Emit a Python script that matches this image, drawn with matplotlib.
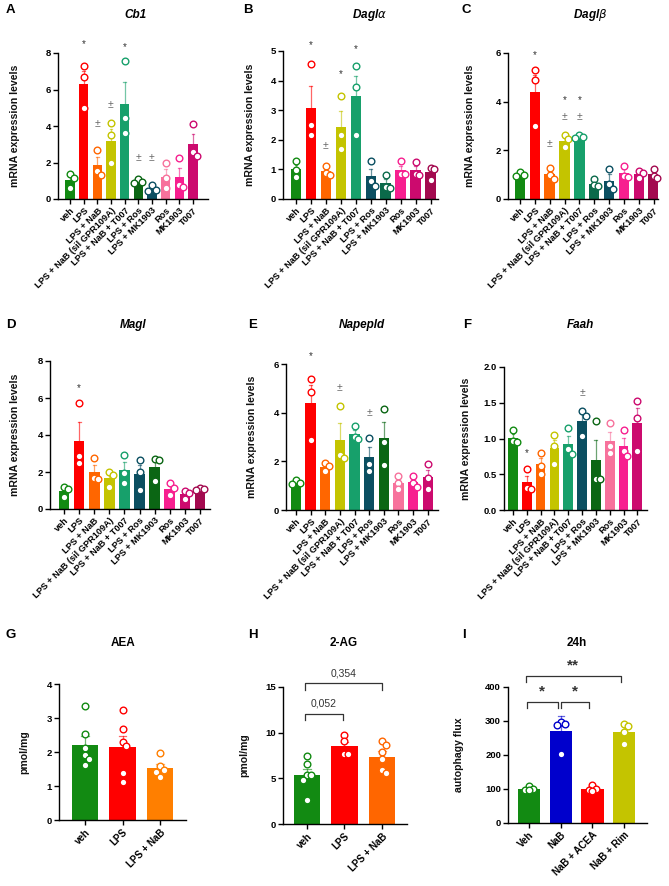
import matplotlib
matplotlib.use('Agg')
import matplotlib.pyplot as plt
import numpy as np

plt.rcParams['font.family'] = ['Liberation Sans', 'DejaVu Sans']

# ---- data ----
groups = ['veh', 'LPS', 'LPS + NaB', 'LPS + NaB (sil GPR109A)', 'LPS + NaB + T007',
          'LPS + Ros', 'LPS + MK1903', 'Ros', 'MK1903', 'T007']

cb1 = [[1.35, 1.15, 0.6], [7.29, 6.69, 5.0], [2.69, 1.56, 1.29], [4.15, 3.5, 1.96],
       [7.56, 4.42, 3.64], [1.1, 0.95, 0.85], [0.78, 0.5, 0.45], [1.96, 1.15, 0.58],
       [2.22, 0.75, 0.65], [4.1, 2.6, 2.33]]
dagla = [[1.27, 0.99, 0.73], [4.55, 2.5, 2.17], [1.12, 0.88, 0.82], [3.49, 2.15, 1.69],
         [4.49, 3.78, 2.17], [1.27, 0.6, 0.45], [0.82, 0.4, 0.38], [1.27, 0.85, 0.85],
         [1.25, 0.85, 0.82], [1.04, 1.0, 0.65]]
daglb = [[1.1, 1.0, 0.95], [5.29, 4.88, 3.0], [1.27, 1.0, 0.82], [2.63, 2.45, 2.13],
         [2.62, 2.55, 2.52], [0.82, 0.56, 0.52], [1.25, 0.61, 0.41], [1.36, 0.95, 0.9],
         [1.15, 1.05, 0.87], [1.25, 0.95, 0.85]]
magl = [[1.17, 1.1, 0.65], [5.74, 2.87, 2.48], [2.74, 1.65, 1.62], [1.99, 1.85, 1.17],
        [2.92, 1.94, 1.4], [2.65, 1.99, 1.04], [2.7, 2.65, 1.52], [1.4, 1.13, 0.74],
        [0.99, 0.86, 0.54], [1.15, 1.1, 1.05]]
napepld = [[1.25, 1.12, 1.08], [5.4, 4.86, 2.88], [1.92, 1.81, 1.62], [4.29, 2.26, 2.12],
           [3.47, 3.01, 2.9], [2.97, 1.89, 1.62], [4.16, 2.81, 1.85], [1.41, 1.1, 0.85],
           [1.4, 1.1, 0.96], [1.88, 1.3, 0.88]]
faah = [[1.12, 0.96, 0.95], [0.57, 0.31, 0.3], [0.8, 0.61, 0.5], [1.05, 0.9, 0.64],
        [1.14, 0.85, 0.78], [1.38, 1.31, 1.03], [1.25, 0.43, 0.43], [1.22, 0.89, 0.8],
        [1.12, 0.82, 0.76], [1.53, 1.29, 0.83]]

groups_endo = ['veh', 'LPS', 'LPS + NaB']
aea = [[3.35, 2.52, 2.11, 1.91, 1.79, 1.62], [3.24, 2.67, 2.3, 2.19, 1.39, 1.11],
       [1.96, 1.6, 1.47, 1.42, 1.27]]
ag2 = [[7.5, 6.55, 5.4, 5.4, 4.85, 2.65], [9.7, 9.05, 7.66, 7.66],
       [9.12, 8.6, 7.84, 7.14, 5.86, 5.57]]

groups_flux = ['Veh', 'NaB', 'NaB + ACEA', 'NaB + Rim']
flux = [[110, 100, 97, 98], [297, 287, 290, 203], [112, 100, 96, 94], [290, 285, 268, 233]]

# significance marks: (bar, y, symbol)
marks_cb1 = [(1, 8.5, '*'), (2, 4.1, '±'), (3, 5.15, '±'), (4, 8.3, '*'), (5, 2.25, '±'), (6, 2.25, '±')]
marks_dagla = [(1, 5.2, '*'), (2, 1.78, '±'), (3, 4.22, '*'), (4, 5.06, '*')]
marks_daglb = [(1, 5.9, '*'), (2, 2.25, '±'), (3, 4.07, '*'), (3, 3.38, '±'), (4, 4.07, '*'), (4, 3.38, '±')]
marks_magl = [(1, 6.55, '*')]
marks_napepld = [(1, 6.33, '*'), (3, 5.03, '±'), (5, 4.0, '±')]
marks_faah = [(1, 0.8, '*'), (5, 1.63, '±')]

# ---- colours ----
GR, RD, OR, OL, TE = '#128a12', '#ff0000', '#ff6600', '#c4c400', '#17a06b'
DG, DT, TG = '#0b6614', '#0b4f61', '#0b6a4a'
PK, HP, MG, MR, BL = '#f7729c', '#f71f8f', '#cc0a6e', '#a30a4f', '#0000cc'

W, H = 669, 886
fig = plt.figure(figsize=(W / 100, H / 100), dpi=100)


def rect(l, t, r, b):
    return [l / W, 1 - b / H, (r - l) / W, (b - t) / H]


def bars(ax, pts, colors, names, ymax, yticks, xlim, sd=False, fmt=None, xfs=7):
    ax.set_xlim(*xlim)
    ax.set_ylim(0, ymax)
    bb = ax.get_position()
    ppu_y = bb.height * H / ymax
    ppu_x = bb.width * W / (xlim[1] - xlim[0])
    diam = 6.5
    for i, p in enumerate(pts):
        p = np.array(p, dtype=float)
        m = p.mean()
        e = p.std(ddof=1) if sd else p.std(ddof=1) / np.sqrt(len(p))
        c = colors[i]
        ax.bar(i, m, width=0.7, color=c, zorder=2)
        ax.plot([i, i], [m, m + e], color=c, lw=0.9, alpha=0.6, zorder=1.5, clip_on=False)
        ax.plot([i - 0.1, i + 0.1], [m + e, m + e], color=c, lw=0.9, alpha=0.6, zorder=1.5, clip_on=False)
        placed = []
        for v in sorted(p, reverse=True):
            best, bestd = 0, -1
            for off in [0, 1, -1]:
                xo = off * diam * 0.6
                d = min([np.hypot(xo - a, (v - b) * ppu_y) for a, b in placed] + [99])
                if d > diam * 0.85:
                    best = xo
                    break
                if d > bestd:
                    best, bestd = xo, d
            placed.append((best, v))
            ax.scatter(i + best / ppu_x, v, s=23, facecolor='white', edgecolor=c,
                       linewidths=1.0, zorder=3, clip_on=False)
    ax.set_xticks(range(len(pts)))
    ax.set_xticklabels(names, rotation=45, ha='right', rotation_mode='anchor',
                       fontsize=xfs, fontweight='bold')
    ax.set_yticks(yticks)
    if fmt:
        ax.set_yticklabels([fmt % t for t in yticks])
    for lab in ax.get_yticklabels():
        lab.set_fontweight('bold')
        lab.set_fontsize(6.8)
    for s in ['top', 'right']:
        ax.spines[s].set_visible(False)
    for s in ['left', 'bottom']:
        ax.spines[s].set_linewidth(1.0)
    ax.tick_params(width=1.0, length=3.5, pad=1.5)


def marks(ax, mk):
    for i, y, s in mk:
        col = '#333333' if s == '*' else '#666666'
        ax.text(i, y, s, ha='center', va='center', fontsize=7 if s == '*' else 7.5,
                color=col, clip_on=False)


def bracket(ax, x1, x2, y, drop, label, ly, fs=7.5, bold=False):
    ax.plot([x1, x1, x2, x2], [y - drop, y, y, y - drop], color='#333333', lw=0.9, clip_on=False)
    ax.text((x1 + x2) / 2, ly, label, ha='center', va='center', fontsize=fs,
            fontweight='bold' if bold else 'normal', color='#333333', clip_on=False)


ylab = 'mRNA expression levels'
panels = [
    ('A', 'Cb1', (58, 53, 208, 199), cb1, [GR, RD, OR, OL, TE, DG, DT, PK, HP, MG], 8, [0, 2, 4, 6, 8], (-0.88, 10.1), marks_cb1, None),
    ('B', r'Dagl$\alpha$', (283, 51, 438, 199), dagla, [GR, RD, OR, OL, TE, DT, TG, HP, MG, MR], 5, [0, 1, 2, 3, 4, 5], (-0.87, 9.5), marks_dagla, None),
    ('C', r'Dagl$\beta$', (508, 53, 658, 199), daglb, [GR, RD, OR, OL, TE, TG, DT, HP, MG, MR], 6, [0, 2, 4, 6], (-0.81, 9.3), marks_daglb, None),
    ('D', 'Magl', (50, 361, 210, 509), magl, [GR, RD, OR, OL, TE, DT, DG, HP, MG, MR], 8, [0, 2, 4, 6, 8], (-0.93, 9.67), marks_magl, None),
    ('E', 'Napepld', (286, 364, 438, 510), napepld, [GR, RD, OR, OL, TE, DT, DG, PK, HP, MG], 6, [0, 2, 4, 6], (-0.68, 9.7), marks_napepld, None),
    ('F', 'Faah', (504, 367, 647, 510), faah, [GR, RD, OR, OL, TE, DT, DG, PK, HP, MG], 2, [0, 0.5, 1.0, 1.5, 2.0], (-0.65, 9.7), marks_faah, '%.1f'),
]
title_pos = {'A': (135, 15), 'B': (370, 15), 'C': (590, 15),
             'D': (133, 325), 'E': (362, 325), 'F': (580, 325)}
letter_pos = {'A': (6, 10), 'B': (243, 10), 'C': (461, 10),
              'D': (6, 325), 'E': (248, 325), 'F': (463, 325),
              'G': (6, 635), 'H': (248, 635), 'I': (462, 635)}

ylab_x = {'A': 15, 'B': 250, 'C': 470, 'D': 15, 'E': 252, 'F': 466}

for key, title, r, pts, cols, ymax, yt, xl, mk, fmt in panels:
    ax = fig.add_axes(rect(*r))
    bars(ax, pts, cols, groups, ymax, yt, xl, fmt=fmt, xfs=6.6)
    marks(ax, mk)
    fig.text(ylab_x[key] / W, 1 - (r[1] + r[3]) / 2 / H, ylab, rotation=90,
             ha='center', va='center', fontsize=7.6, fontweight='bold', color='#111111')
    tx, ty = title_pos[key]
    fig.text(tx / W, 1 - ty / H, title, ha='center', va='center', fontsize=8.5,
             fontweight='bold', style='italic')

# G
axg = fig.add_axes(rect(59, 684, 186, 820))
bars(axg, aea, [GR, RD, '#ff7f00'], groups_endo, 4, [0, 1, 2, 3, 4], (-0.69, 2.69))
fig.text(24 / W, 1 - 752 / H, 'pmol/mg', rotation=90, ha='center', va='center',
         fontsize=7.6, fontweight='bold', color='#111111')
fig.text(123 / W, 1 - 643 / H, 'AEA', ha='center', va='center', fontsize=8.5, fontweight='bold')

# H
axh = fig.add_axes(rect(283, 687, 407, 824))
bars(axh, ag2, [GR, RD, OR], groups_endo, 15, [0, 5, 10, 15], (-0.64, 2.67))
bracket(axh, -0.06, 0.96, 12.0, 0.65, '0,052', 13.2)
bracket(axh, -0.06, 2.0, 15.4, 0.7, '0,354', 16.5)
fig.text(244 / W, 1 - 755 / H, 'pmol/mg', rotation=90, ha='center', va='center',
         fontsize=7.6, fontweight='bold', color='#111111')
fig.text(344 / W, 1 - 643 / H, '2-AG', ha='center', va='center', fontsize=8.5, fontweight='bold')

# I
axi = fig.add_axes(rect(508, 687, 647, 823))
bars(axi, flux, [GR, BL, RD, OL], groups_flux, 400, [0, 100, 200, 300, 400], (-0.66, 3.72), sd=True)
bracket(axi, -0.05, 0.9, 356, 17, '*', 388, fs=11, bold=True)
bracket(axi, 1.0, 1.9, 356, 17, '*', 388, fs=11, bold=True)
bracket(axi, -0.1, 2.9, 432, 17, '**', 462, fs=11, bold=True)
fig.text(459 / W, 1 - 755 / H, 'autophagy flux', rotation=90, ha='center', va='center',
         fontsize=7.6, fontweight='bold', color='#111111')
fig.text(577 / W, 1 - 643 / H, '24h', ha='center', va='center', fontsize=8.5, fontweight='bold')

for k, (lx, ly) in letter_pos.items():
    fig.text(lx / W, 1 - ly / H, k, ha='left', va='center', fontsize=9.5, fontweight='bold')

fig.savefig('out.png', dpi=100)
